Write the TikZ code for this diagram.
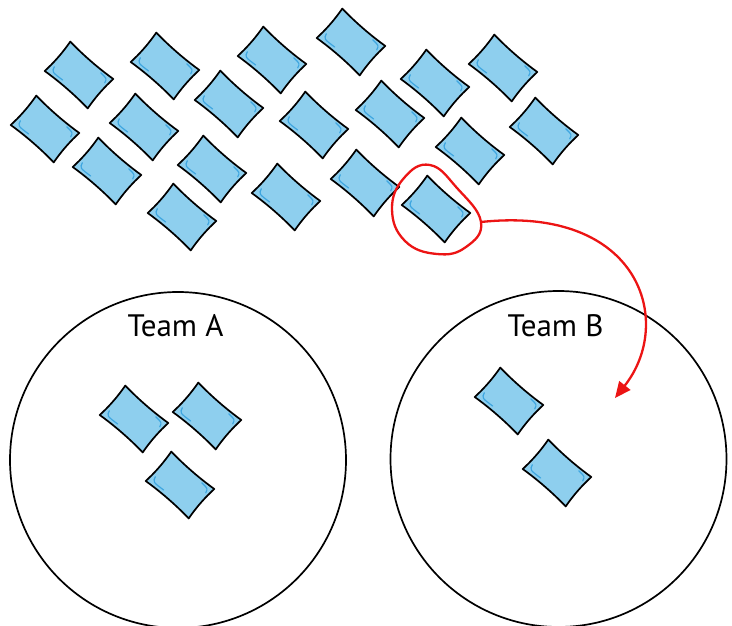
\documentclass[tikz,border=0pt]{standalone}
\usepackage{fontspec}
\setmainfont{PT Sans}
\usetikzlibrary{arrows.meta}
\definecolor{tileblue}{RGB}{142,207,238}
\definecolor{shineblue}{RGB}{62,166,224}
\definecolor{pickred}{RGB}{236,20,20}
\tikzstyle{tile} = [draw, fill=tileblue, line width=1.7pt, line join=round]
\tikzstyle{shine} = [draw=shineblue, line width=1.2pt, line cap=round]
\tikzstyle{team} = [draw, circle, line width=1.7pt, minimum size=336pt, inner sep=0pt]
\tikzstyle{title} = [font=\fontsize{31}{33}\selectfont, anchor=base, inner sep=0pt]
\tikzstyle{pick} = [draw=pickred, line width=2.3pt]
% one tile: name, x, y (pixels from top left)
\newcommand{\tile}[3]{%
  \begin{scope}[shift={(#2,-#3)}, rotate=-41]
    \path[tile] (-28.5,19.5) .. controls (-10,17.8) and (10,17.8) .. (28.5,19.5)
      .. controls (27,7) and (27,-7) .. (28.5,-19.5)
      .. controls (10,-17.8) and (-10,-17.8) .. (-28.5,-19.5)
      .. controls (-27,-7) and (-27,7) .. cycle;
    \coordinate (#1) at (0,0);
    \draw[shine] (-24,-10) .. controls (-22.5,-15.5) .. (-9,-14.5);
    \draw[shine] (24.5,11) .. controls (23.5,15.5) .. (15,16);
  \end{scope}}

\begin{document}
\begin{tikzpicture}[x=1pt, y=1pt, >=Triangle]
    \useasboundingbox (0,0) rectangle (732,-626);
    % Define the teams
    \node [team] (teamA) at (178,-460) {};
    \node [team] (teamB) at (558.5,-459) {};
    \node [title] (nameA) at (175.5,-336) {Team A};
    \node [title] (nameB) at (555.5,-336) {Team B};
    % Tiles still to be picked
    \foreach \n/\x/\y in {1/79/75, 2/165/66, 3/272/60, 4/351/42, 5/435/83,
        6/503/68, 7/45/129, 8/144/127, 9/229/104, 10/314/125, 11/390/114,
        12/470/151, 13/544/131, 14/107/171, 15/212/169, 16/286/197,
        17/365/183, 18/182/217, 19/436/209}
        \tile{pool\n}{\x}{\y};
    % Tiles in the teams
    \tile{a1}{134}{419}
    \tile{a2}{207}{416}
    \tile{a3}{180}{485}
    \tile{b1}{509}{401}
    \tile{b2}{557}{473}
    % Pick one and move it
    \coordinate (loopend) at (481,-222);
    \coordinate (drop) at (615,-398);
    \draw [pick] plot[smooth cycle, tension=0.75] coordinates {(430,-165)
        (457,-188) (loopend) (466,-247) (437,-254) (405,-241) (392,-209)
        (404,-178)};
    \draw [pick, -{Triangle[length=16pt, width=14pt]}] (loopend)
        .. controls (640,-205) and (675,-322) .. (drop);
\end{tikzpicture}
\end{document}
